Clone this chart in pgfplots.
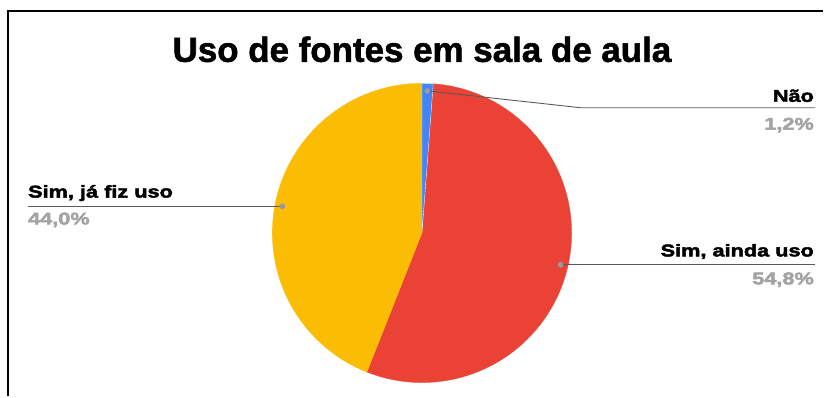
\documentclass[border=0pt]{standalone}
\usepackage{pgfplots}
\pgfplotsset{compat=1.18}
\usepackage{pgfplotstable}
\usepackage{fontspec}
\setmainfont{Liberation Sans}
\newfontfamily\lblfont{Liberation Sans}[FakeStretch=1.28,FakeBold=2.8]
\newfontfamily\ttlfont{Liberation Sans}[FakeBold=1.6]
\definecolor{gblue}{HTML}{4285F4}
\definecolor{gred}{HTML}{EA4335}
\definecolor{gyellow}{HTML}{FBBC04}
\definecolor{pctgray}{HTML}{A3A3A3}
\definecolor{leader}{HTML}{5A5A5A}
\definecolor{dotgray}{HTML}{9A9A9A}

\pgfplotstableread{
idx value
0 1.2
1 54.8
2 44.0
}\piedata

\begin{document}
\begin{tikzpicture}
\pgfplotstablegetelem{0}{value}\of\piedata \let\vA\pgfplotsretval
\pgfplotstablegetelem{1}{value}\of\piedata \let\vB\pgfplotsretval
\pgfplotstablegetelem{2}{value}\of\piedata \let\vC\pgfplotsretval
\pgfmathsetmacro\aA{90}
\pgfmathsetmacro\aB{\aA-3.6*\vA}
\pgfmathsetmacro\aC{\aB-3.6*\vB}
\pgfmathsetmacro\aD{\aC-3.6*\vC}
\pgfmathsetmacro\mA{(\aA+\aB)/2}
\pgfmathsetmacro\mB{(\aB+\aC)/2}
\pgfmathsetmacro\mC{(\aC+\aD)/2}
\pgfmathsetmacro\cx{423}
\pgfmathsetmacro\cy{162.5}
\pgfmathsetmacro\R{150}
\pgfmathsetmacro\rd{142.5}
\pgfmathsetmacro\pAx{\cx+\rd*cos(\mA)}
\pgfmathsetmacro\pAy{\cy+\rd*sin(\mA)}
\pgfmathsetmacro\pBx{\cx+\rd*cos(\mB)}
\pgfmathsetmacro\pBy{\cy+\rd*sin(\mB)}
\pgfmathsetmacro\pCx{\cx+\rd*cos(\mC)}
\pgfmathsetmacro\pCy{\cy+\rd*sin(\mC)}
\begin{axis}[
  hide axis, scale only axis,
  width=824pt, height=396pt,
  xmin=0, xmax=824, ymin=0, ymax=396,
  clip=false,
]
\path (axis cs:0,0) rectangle (axis cs:824,396);
% border (top and left)
\addplot[black, line width=2pt, mark=none] coordinates {(8,-1) (8,385) (825,385)};
% slices
\addplot[fill=gred, draw=gred, line width=0.3pt, domain=\aC:\aB, samples=120, variable=\t]
  ({\cx+\R*cos(\t)}, {\cy+\R*sin(\t)}) -- (axis cs:\cx,\cy) -- cycle;
\addplot[fill=gyellow, draw=gyellow, line width=0.3pt, domain=\aD:\aC, samples=120, variable=\t]
  ({\cx+\R*cos(\t)}, {\cy+\R*sin(\t)}) -- (axis cs:\cx,\cy) -- cycle;
\addplot[fill=gblue, draw=white, line width=0.3pt, domain=\aB:\aA, samples=10, variable=\t]
  ({\cx+\R*cos(\t)}, {\cy+\R*sin(\t)}) -- (axis cs:\cx,\cy) -- cycle;
% leader lines
\addplot[leader, line width=0.9pt, mark=none] coordinates {(\pAx,\pAy) (582,288) (817,288)};
\addplot[leader, line width=0.9pt, mark=none] coordinates {(\pBx,\pBy) (817,\pBy)};
\addplot[leader, line width=0.9pt, mark=none] coordinates {(\pCx,\pCy) (28,\pCy)};
\addplot[only marks, mark=*, mark size=2.6pt, mark options={fill=dotgray, draw=dotgray}]
  coordinates {(\pAx,\pAy) (\pBx,\pBy) (\pCx,\pCy)};
% title
\node[anchor=base, font=\ttlfont\fontsize{35}{42}\selectfont\bfseries] at (axis cs:423,334) {Uso de fontes em sala de aula};
% labels
\node[anchor=base east, inner sep=0pt, font=\lblfont\fontsize{17}{20}\selectfont\bfseries] at (axis cs:816,294) {Não};
\node[anchor=base east, inner sep=0pt, text=pctgray, font=\lblfont\fontsize{17}{20}\selectfont\bfseries] at (axis cs:816,266) {1,2\%};
\node[anchor=base east, inner sep=0pt, font=\lblfont\fontsize{17}{20}\selectfont\bfseries] at (axis cs:816,139) {Sim, ainda uso};
\node[anchor=base east, inner sep=0pt, text=pctgray, font=\lblfont\fontsize{17}{20}\selectfont\bfseries] at (axis cs:816,111) {54,8\%};
\node[anchor=base west, inner sep=0pt, font=\lblfont\fontsize{17}{20}\selectfont\bfseries] at (axis cs:28,198) {Sim, já fiz uso};
\node[anchor=base west, inner sep=0pt, text=pctgray, font=\lblfont\fontsize{17}{20}\selectfont\bfseries] at (axis cs:28,171) {44,0\%};
\end{axis}
\end{tikzpicture}
\end{document}
